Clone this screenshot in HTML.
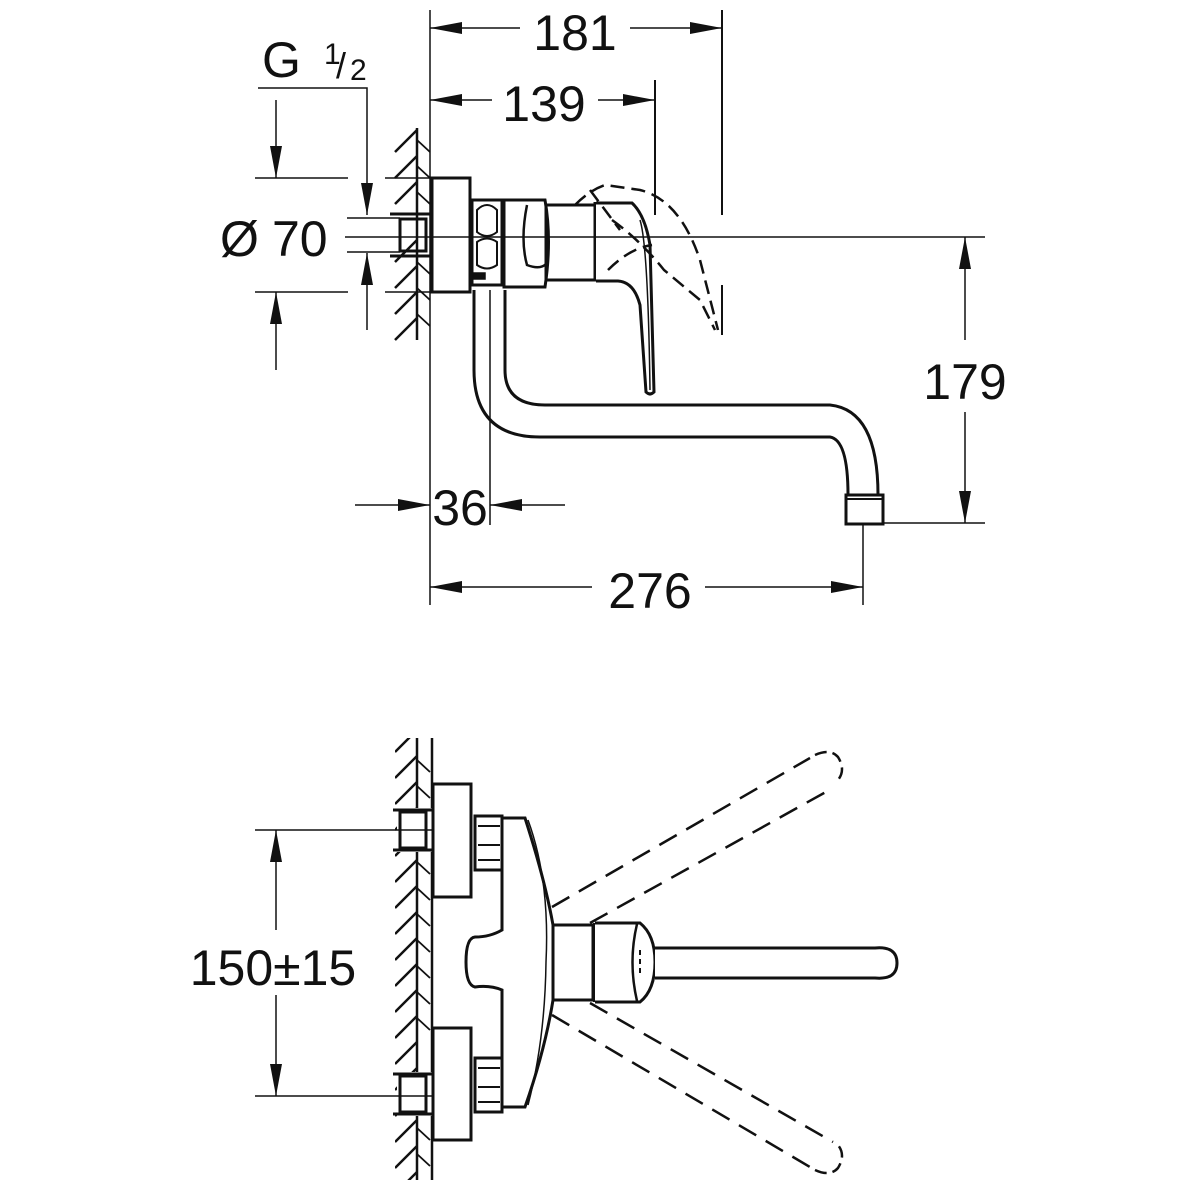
<!DOCTYPE html>
<html><head><meta charset="utf-8"><style>
html,body{margin:0;padding:0;background:#fff}
svg{display:block}
text{font-family:"Liberation Sans",sans-serif;fill:#111}
</style></head><body>
<svg width="1200" height="1200" viewBox="0 0 1200 1200" xmlns="http://www.w3.org/2000/svg">
<defs>
<marker id="a" markerWidth="32" markerHeight="12" viewBox="0 0 32 12" refX="32" refY="6" markerUnits="userSpaceOnUse" orient="auto">
<path d="M0,0 L32,6 L0,12 Z" fill="#111" stroke="none"/>
</marker>
<pattern id="h" width="26" height="26" patternUnits="userSpaceOnUse" x="395" y="0">
<path d="M0,24 L22,2" stroke="#111" stroke-width="2.5"/>
</pattern>
</defs>
<g stroke="#111" fill="none" stroke-width="1.5">
<!-- TOP VIEW -->
<line x1="430" y1="10" x2="430" y2="605"/>
<line x1="417" y1="128" x2="417" y2="340" stroke-width="2.5"/>
<g stroke-width="2.5">
<path d="M395,152 L417,130 M395,178 L417,156 M395,204 L417,182 M395,262 L417,240 M395,288 L417,266 M395,314 L417,292 M395,340 L417,318"/>
<path d="M417,140 L430,152 M417,166 L430,178 M417,192 L430,204 M417,262 L430,274 M417,288 L430,300 M417,314 L430,326" stroke-width="1.8"/>
</g>
<rect x="400" y="219" width="26" height="32" stroke-width="3"/>
<line x1="390" y1="214" x2="430" y2="214" stroke-width="3"/>
<line x1="390" y1="256" x2="430" y2="256" stroke-width="3"/>
<rect x="432" y="178" width="38" height="114" stroke-width="3" fill="#fff"/>
<rect x="472" y="200" width="30" height="85" stroke-width="3" fill="#fff"/>
<path d="M477,210 Q487,200 497,210 L497,232 Q487,240 477,232 Z M477,242 Q487,235 497,242 L497,265 Q487,272 477,265 Z" stroke-width="2"/>
<rect x="473" y="273" width="12" height="6" fill="#111"/>
<path d="M504,200 L545,200 Q552,240 545,287 L504,287 Z" stroke-width="3" fill="#fff"/>
<path d="M527,205 Q520,240 527,265 Q540,270 546,264" stroke-width="2.5"/>
<rect x="546" y="205" width="50" height="75" stroke-width="3"/>
<line x1="596" y1="202" x2="596" y2="281" stroke-width="5"/>
<path d="M596,203 L632,203 Q645,215 650,245 L654,392 Q650,396 646,392 L640,305 Q634,282 618,281 L596,281" stroke-width="3" fill="#fff"/>
<path d="M640,220 Q648,245 650,390" stroke-width="1.5"/>
<path d="M575,205 Q590,190 605,185 L640,190 Q680,200 700,260 L718,330 M590,190 L620,230 M612,220 Q640,240 664,270 L700,300 L715,330 M608,270 Q630,248 652,245" stroke-width="2.5" stroke-dasharray="14,7"/>
<path d="M474,290 L474,370 Q474,437 540,437 L830,437 Q848,440 848,495" stroke-width="3"/>
<path d="M505,290 L505,370 Q505,405 545,405 L830,405 Q878,410 878,495" stroke-width="3"/>
<rect x="846" y="495" width="37" height="29" stroke-width="3" fill="#fff"/>
<line x1="846" y1="499" x2="883" y2="499" stroke-width="2"/>
<line x1="490" y1="290" x2="490" y2="525"/>
<line x1="345" y1="237" x2="985" y2="237"/>
<line x1="722" y1="10" x2="722" y2="215" stroke-width="2"/>
<line x1="722" y1="285" x2="722" y2="335" stroke-width="2"/>
<line x1="520" y1="28" x2="430" y2="28" marker-end="url(#a)"/>
<line x1="630" y1="28" x2="722" y2="28" marker-end="url(#a)"/>
<line x1="655" y1="80" x2="655" y2="215" stroke-width="2"/>
<line x1="492" y1="100" x2="430" y2="100" marker-end="url(#a)"/>
<line x1="598" y1="100" x2="655" y2="100" marker-end="url(#a)"/>
<path d="M258,88 L367,88 L367,215" marker-end="url(#a)"/>
<line x1="367" y1="330" x2="367" y2="253" marker-end="url(#a)"/>
<line x1="255" y1="178" x2="348" y2="178"/>
<line x1="385" y1="178" x2="432" y2="178"/>
<line x1="255" y1="292" x2="348" y2="292"/>
<line x1="385" y1="292" x2="432" y2="292"/>
<line x1="347" y1="218" x2="400" y2="218"/>
<line x1="347" y1="252" x2="400" y2="252"/>
<line x1="276" y1="100" x2="276" y2="178" marker-end="url(#a)"/>
<line x1="276" y1="370" x2="276" y2="292" marker-end="url(#a)"/>
<line x1="883" y1="523" x2="985" y2="523"/>
<line x1="965" y1="340" x2="965" y2="237" marker-end="url(#a)"/>
<line x1="965" y1="412" x2="965" y2="523" marker-end="url(#a)"/>
<line x1="355" y1="505" x2="430" y2="505" marker-end="url(#a)"/>
<line x1="565" y1="505" x2="490" y2="505" marker-end="url(#a)"/>
<line x1="863" y1="524" x2="863" y2="605"/>
<line x1="592" y1="587" x2="430" y2="587" marker-end="url(#a)"/>
<line x1="705" y1="587" x2="863" y2="587" marker-end="url(#a)"/>

<!-- BOTTOM VIEW -->
<line x1="432" y1="738" x2="432" y2="1180" stroke-width="2.5"/>
<line x1="417" y1="738" x2="417" y2="1180" stroke-width="2.5"/>
<rect x="395" y="738" width="22" height="442" fill="url(#h)" stroke="none"/>
<g stroke-width="1.8">
<path d="M417,760 L430,772 M417,786 L430,798 M417,862 L430,874 M417,888 L430,900 M417,914 L430,926 M417,940 L430,952 M417,966 L430,978 M417,992 L430,1004 M417,1018 L430,1030 M417,1128 L430,1140 M417,1154 L430,1166"/>
</g>
<rect x="397" y="808" width="40" height="44" fill="#fff" stroke="none"/>
<rect x="400" y="812" width="26" height="36" stroke-width="3"/>
<line x1="393" y1="810" x2="432" y2="810" stroke-width="3"/>
<line x1="393" y1="850" x2="432" y2="850" stroke-width="3"/>
<rect x="397" y="1072" width="40" height="44" fill="#fff" stroke="none"/>
<rect x="400" y="1076" width="26" height="36" stroke-width="3"/>
<line x1="393" y1="1074" x2="432" y2="1074" stroke-width="3"/>
<line x1="393" y1="1114" x2="432" y2="1114" stroke-width="3"/>
<line x1="255" y1="830" x2="435" y2="830"/>
<line x1="255" y1="1096" x2="435" y2="1096"/>
<rect x="433" y="784" width="38" height="113" stroke-width="3" fill="#fff"/>
<rect x="433" y="1028" width="38" height="112" stroke-width="3" fill="#fff"/>
<rect x="475" y="816" width="27" height="54" stroke-width="3" fill="#fff"/>
<path d="M478,826 L500,826 M478,845 L500,845 M478,860 L500,860" stroke-width="2"/>
<rect x="475" y="1058" width="27" height="54" stroke-width="3" fill="#fff"/>
<path d="M478,1068 L500,1068 M478,1087 L500,1087 M478,1102 L500,1102" stroke-width="2"/>
<path d="M502,818 L525,818 Q545,880 553,925 L553,1000 Q545,1050 525,1107 L502,1107 L502,990 Q490,985 475,987 Q466,985 466,962 Q466,938 475,937 Q490,937 502,930 Z" stroke-width="3" fill="#fff"/>
<path d="M528,820 Q550,880 546,962 Q545,1040 528,1105" stroke-width="1.5"/>
<rect x="553" y="925" width="40" height="75" stroke-width="3" fill="#fff"/>
<line x1="595" y1="923" x2="595" y2="1002" stroke-width="4"/>
<path d="M595,923 L640,923 Q655,935 655,962 Q655,990 640,1002 L595,1002" stroke-width="3" fill="#fff"/>
<path d="M637,924 Q628,962 637,1001" stroke-width="2.5"/>
<path d="M640,950 L640,975" stroke-width="2" stroke-dasharray="5,4"/>
<path d="M655,948 L875,948 Q897,946 897,963 Q897,980 875,978 L655,978" stroke-width="3" fill="#fff"/>
<g stroke-width="2.5" stroke-dasharray="20,11">
<line x1="552" y1="907" x2="810" y2="758"/>
<line x1="590" y1="923" x2="833" y2="788"/>
<line x1="552" y1="1015" x2="810" y2="1167"/>
<line x1="590" y1="1003" x2="833" y2="1142"/>
<path d="M815,755 Q830,748 838,757 Q846,770 838,780 M815,1170 Q830,1177 838,1168 Q846,1155 838,1145" stroke-dasharray="12,6"/>
</g>
<line x1="276" y1="930" x2="276" y2="830" marker-end="url(#a)"/>
<line x1="276" y1="995" x2="276" y2="1096" marker-end="url(#a)"/>
</g>
<g font-size="50">
<text x="575" y="50" text-anchor="middle">181</text>
<text x="544" y="121" text-anchor="middle">139</text>
<text x="262" y="77">G</text>
<text x="324" y="64" font-size="30">1</text>
<text x="336" y="78" font-size="36">/</text>
<text x="350" y="80" font-size="30">2</text>
<text x="220" y="256">Ø</text>
<text x="272" y="256">70</text>
<text x="965" y="399" text-anchor="middle">179</text>
<text x="460" y="525" text-anchor="middle">36</text>
<text x="650" y="608" text-anchor="middle">276</text>
<text x="273" y="985" text-anchor="middle">150±15</text>
</g>
</svg>
</body></html>
